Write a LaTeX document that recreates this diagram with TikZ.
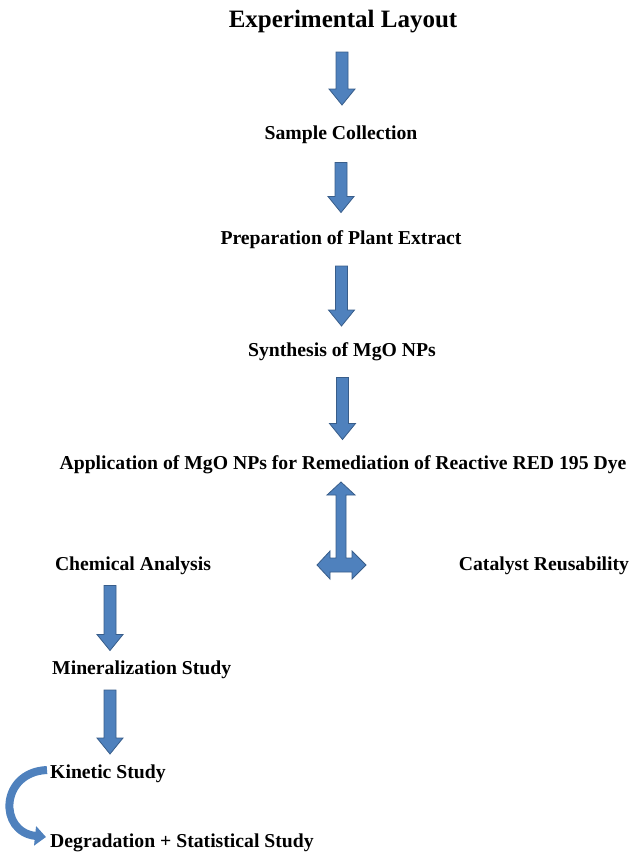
\documentclass[tikz,border=0pt]{standalone}
\usepackage{fontspec}
\setmainfont{Liberation Serif}
\usetikzlibrary{arrows.meta,calc}

\definecolor{arrowfill}{RGB}{79,129,189}
\definecolor{arrowedge}{RGB}{56,93,138}

\tikzset{
  label/.style={font=\fontsize{19.7}{22}\selectfont\bfseries, inner sep=0pt},
  blockarrow/.style={draw=arrowedge, fill=arrowfill, line width=0.8pt, line join=miter},
  curvearrow/.style={draw=arrowfill, line width=8pt,
    -{Triangle[width=19pt,length=11pt]}}
}

% downward block arrow centred between two points, #3 = length
\newcommand{\blockarrow}[3]{%
  \path ($(#1)!0.5!(#2)$) coordinate (mid);
  \filldraw [blockarrow] ($(mid)+(-6,-#3/2)$) -- ($(mid)+(6,-#3/2)$)
    -- ($(mid)+(6,#3/2-16)$) -- ($(mid)+(13,#3/2-16)$) -- ($(mid)+(0,#3/2)$)
    -- ($(mid)+(-13,#3/2-16)$) -- ($(mid)+(-6,#3/2-16)$) -- cycle;
}

\begin{document}
\begin{tikzpicture}[x=1pt, y=-1pt]
    \useasboundingbox (0,0) rectangle (630,852);

    \node [label, font=\fontsize{25}{28}\selectfont\bfseries] (title) at (343, 22) {Experimental Layout};
    \node [label] (sample) at (341, 135) {Sample Collection};
    \node [label] (extract) at (341, 240) {Preparation of Plant Extract};
    \node [label] (synth) at (342, 352) {Synthesis of MgO NPs};
    \node [label] (appl) at (343, 465) {Application of MgO NPs for Remediation of Reactive RED 195 Dye};

    \node [label] (chem) at (133, 566) {Chemical Analysis};
    \node [label] (reuse) at (544, 566) {Catalyst Reusability};
    \node [label, anchor=west] (mineral) at (52, 670) {Mineralization Study};
    \node [label, anchor=west] (kinetic) at (50, 774) {Kinetic Study};
    \node [label, anchor=west] (degrad) at (50, 843) {Degradation + Statistical Study};

    % main column
    \blockarrow{title}{sample}{53}
    \blockarrow{sample}{extract}{50}
    \blockarrow{extract}{synth}{60}
    \blockarrow{synth}{appl}{62}

    % three-way arrow below the application step
    \coordinate (fork) at (341, 565);
    \filldraw [blockarrow]
      ($(fork)+(-5,-7)$) -- ($(fork)+(-5,-70)$) -- ($(fork)+(-14,-70)$)
      -- ($(fork)+(0,-83)$) -- ($(fork)+(14,-70)$) -- ($(fork)+(5,-70)$)
      -- ($(fork)+(5,-7)$) -- ($(fork)+(11,-7)$) -- ($(fork)+(11,-14)$)
      -- ($(fork)+(25,0)$) -- ($(fork)+(11,14)$) -- ($(fork)+(11,7)$)
      -- ($(fork)+(-11,7)$) -- ($(fork)+(-11,14)$) -- ($(fork)+(-24,0)$)
      -- ($(fork)+(-11,-14)$) -- ($(fork)+(-11,-7)$) -- cycle;

    % left column
    \coordinate (lx) at (110, 0);
    \blockarrow{lx |- chem}{lx |- mineral}{65}
    \blockarrow{lx |- mineral}{lx |- kinetic}{64}

    \draw [curvearrow] ($(kinetic.west)+(-3,-4)$) .. controls (0,772) and (-2,832) .. ($(degrad.west)+(-4,-6)$);
\end{tikzpicture}
\end{document}
